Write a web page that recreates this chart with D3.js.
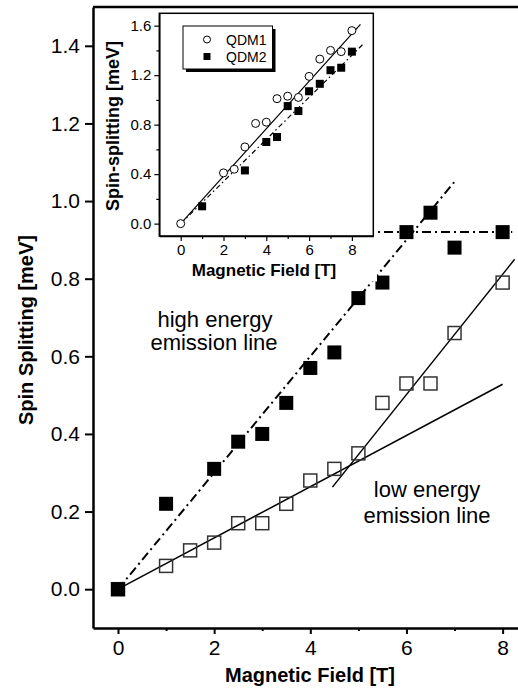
<!DOCTYPE html>
<html>
  <head>
    <title>Spin Splitting vs Magnetic Field</title>
    <meta charset="utf-8">
    <script src="https://d3js.org/d3.v7.min.js"></script>
    <style>
    body { margin: 0; background: #fff; }
    text { font-family: 'Liberation Sans', Arial, Helvetica, sans-serif; fill: #000; }
    .axis path, .axis line { stroke: #000; }
    .axis text { font-family: 'Liberation Sans', Arial, Helvetica, sans-serif; fill: #000; }
    .title { font-weight: bold; }
    </style>
  </head>
  <body>
    <script>

      // main panel data
      var highField = [0, 1, 2, 2.5, 3, 3.5, 4, 4.5, 5, 5.5, 6, 6.5, 7, 8];
      var highSplit = [0, 0.22, 0.31, 0.38, 0.40, 0.48, 0.57, 0.61, 0.75, 0.79, 0.92, 0.97, 0.88, 0.92];
      var lowField = [0, 1, 1.5, 2, 2.5, 3, 3.5, 4, 4.5, 5, 5.5, 6, 6.5, 7, 8];
      var lowSplit = [0, 0.06, 0.10, 0.12, 0.17, 0.17, 0.22, 0.28, 0.31, 0.35, 0.48, 0.53, 0.53, 0.66, 0.79];
      var highFit = [[0, 0], [7, 1.05]];
      var highSat = [[0, 0.92], [8.2, 0.92]];
      var lowFitA = [[0, 0], [8, 0.528]];
      var lowFitB = [[4.46, 0.263], [8.25, 0.85]];
      var mainXTicks = [0, 2, 4, 6, 8];
      var mainXMinor = [1, 3, 5, 7];
      var mainYTicks = [0, 0.2, 0.4, 0.6, 0.8, 1.0, 1.2, 1.4];

      // inset data
      var qdm1Field = [0, 2, 2.5, 3, 3.5, 4, 4.5, 5, 5.5, 6, 6.5, 7, 7.5, 8];
      var qdm1Split = [0, 0.41, 0.44, 0.62, 0.81, 0.82, 1.01, 1.03, 1.02, 1.19, 1.33, 1.40, 1.39, 1.56];
      var qdm2Field = [1, 3, 4, 4.5, 5, 5.5, 6, 6.5, 7, 7.5, 8];
      var qdm2Split = [0.14, 0.43, 0.66, 0.70, 0.95, 0.91, 1.07, 1.13, 1.24, 1.26, 1.39];
      var qdm1Fit = [[0, 0], [8.4, 1.61]];
      var qdm2Fit = [[0, 0], [8.55, 1.455]];
      var insetXTicks = [0, 2, 4, 6, 8];
      var insetXMinor = [1, 3, 5, 7];
      var insetYTicks = [0, 0.4, 0.8, 1.2, 1.6];
      var insetYMinor = [0.2, 0.6, 1.0, 1.4];
      var legendNames = ["QDM1", "QDM2"];

      // setup
      var w = 518, h = 691;
      var margin = {top: 7, left: 93, right: 0, bottom: 63};
      var plotwidth = w - margin.left - margin.right;
      var plotheight = h - margin.top - margin.bottom;
      var fmt = d3.format(".1f");

      var svg = d3.select("body").append("svg")
          .attr("width", w)
          .attr("height", h);

      var x = d3.scaleLinear().domain([-0.52, 8.32]).range([margin.left, margin.left + plotwidth]);
      var y = d3.scaleLinear().domain([-0.1, 1.5]).range([margin.top + plotheight, margin.top]);
      var line = d3.line().x(function(d) { return x(d[0]); }).y(function(d) { return y(d[1]); });

      // fit lines
      svg.append("path").attr("d", line(highFit)).attr("fill", "none")
          .attr("stroke", "#000").attr("stroke-width", 2).attr("stroke-dasharray", "9,4,2,4");
      svg.append("path").attr("d", line(highSat)).attr("fill", "none")
          .attr("stroke", "#000").attr("stroke-width", 2).attr("stroke-dasharray", "9,4,2,4");
      svg.append("path").attr("d", line(lowFitA)).attr("fill", "none")
          .attr("stroke", "#000").attr("stroke-width", 1.5);
      svg.append("path").attr("d", line(lowFitB)).attr("fill", "none")
          .attr("stroke", "#000").attr("stroke-width", 1.5);

      // markers
      var so = 13, sf = 14;
      svg.selectAll(".low").data(lowField).enter().append("rect")
          .attr("x", function(d) { return x(d) - so / 2; })
          .attr("y", function(d, i) { return y(lowSplit[i]) - so / 2; })
          .attr("width", so).attr("height", so)
          .attr("fill", "none").attr("stroke", "#333").attr("stroke-width", 1.5);
      svg.selectAll(".high").data(highField).enter().append("rect")
          .attr("x", function(d) { return x(d) - sf / 2; })
          .attr("y", function(d, i) { return y(highSplit[i]) - sf / 2; })
          .attr("width", sf).attr("height", sf)
          .attr("fill", "#000");

      // main axes
      var yAxis = svg.append("g").attr("class", "axis")
          .attr("transform", "translate(" + margin.left + ",0)")
          .call(d3.axisLeft(y).tickValues(mainYTicks).tickFormat(fmt).tickSize(8).tickSizeOuter(0).tickPadding(5));
      var xAxis = svg.append("g").attr("class", "axis")
          .attr("transform", "translate(0," + (margin.top + plotheight) + ")")
          .call(d3.axisBottom(x).tickValues(mainXTicks).tickFormat(d3.format("d")).tickSize(6).tickSizeOuter(0).tickPadding(6));
      svg.append("g").attr("class", "axis")
          .attr("transform", "translate(0," + (margin.top + plotheight) + ")")
          .call(d3.axisBottom(x).tickValues(mainXMinor).tickFormat("").tickSize(3).tickSizeOuter(0))
          .select(".domain").remove();
      svg.selectAll(".axis path").attr("stroke-width", 2.5);
      svg.selectAll(".axis line").attr("stroke-width", 2);
      yAxis.selectAll("text").style("font-size", "21px");
      xAxis.selectAll("text").style("font-size", "21px");
      svg.append("line").attr("x1", margin.left).attr("x2", w)
          .attr("y1", margin.top).attr("y2", margin.top)
          .attr("stroke", "#000").attr("stroke-width", 2.5);

      // main labels
      svg.append("text").attr("class", "title")
          .attr("transform", "translate(33,330) rotate(-90)")
          .attr("text-anchor", "middle").style("font-size", "20px")
          .text("Spin Splitting [meV]");
      svg.append("text").attr("class", "title")
          .attr("x", 310).attr("y", 682)
          .attr("text-anchor", "middle").style("font-size", "20px")
          .text("Magnetic Field [T]");

      // annotations
      var notes = [
        {t: "high energy", x: 215, y: 327},
        {t: "emission line", x: 214, y: 350},
        {t: "low energy", x: 427, y: 497},
        {t: "emission line", x: 427, y: 523}
      ];
      svg.selectAll(".note").data(notes).enter().append("text")
          .attr("x", function(d) { return d.x; })
          .attr("y", function(d) { return d.y; })
          .attr("text-anchor", "middle").style("font-size", "22px")
          .text(function(d) { return d.t; });

      // ---- inset ----
      var ix = d3.scaleLinear().domain([-1, 9]).range([159.3, 373.3]);
      var iy = d3.scaleLinear().domain([-0.1, 1.7]).range([236, 13.3]);
      var iline = d3.line().x(function(d) { return ix(d[0]); }).y(function(d) { return iy(d[1]); });
      var inset = svg.append("g");

      inset.append("rect").attr("x", 100).attr("y", 9.5).attr("width", 277).attr("height", 272).attr("fill", "#fff");

      inset.append("path").attr("d", iline(qdm1Fit)).attr("fill", "none")
          .attr("stroke", "#000").attr("stroke-width", 1.2);
      inset.append("path").attr("d", iline(qdm2Fit)).attr("fill", "none")
          .attr("stroke", "#000").attr("stroke-width", 1.2).attr("stroke-dasharray", "5,3,1.5,3");

      inset.selectAll(".q1").data(qdm1Field).enter().append("circle")
          .attr("cx", function(d) { return ix(d); })
          .attr("cy", function(d, i) { return iy(qdm1Split[i]); })
          .attr("r", 4).attr("fill", "#fff").attr("stroke", "#000").attr("stroke-width", 1);
      inset.selectAll(".q2").data(qdm2Field).enter().append("rect")
          .attr("x", function(d) { return ix(d) - 4; })
          .attr("y", function(d, i) { return iy(qdm2Split[i]) - 4; })
          .attr("width", 8).attr("height", 8).attr("fill", "#000");

      // inset frame and axes
      inset.append("rect").attr("x", ix(-1)).attr("y", iy(1.7))
          .attr("width", ix(9) - ix(-1)).attr("height", iy(-0.1) - iy(1.7))
          .attr("fill", "none").attr("stroke", "#000").attr("stroke-width", 1.5);
      var iyAxis = inset.append("g").attr("class", "axis")
          .attr("transform", "translate(" + ix(-1) + ",0)")
          .call(d3.axisLeft(iy).tickValues(insetYTicks).tickFormat(fmt).tickSize(5).tickSizeOuter(0).tickPadding(3));
      inset.append("g").attr("class", "axis")
          .attr("transform", "translate(" + ix(-1) + ",0)")
          .call(d3.axisLeft(iy).tickValues(insetYMinor).tickFormat("").tickSize(3).tickSizeOuter(0))
          .select(".domain").remove();
      var ixAxis = inset.append("g").attr("class", "axis")
          .attr("transform", "translate(0," + iy(-0.1) + ")")
          .call(d3.axisBottom(ix).tickValues(insetXTicks).tickFormat(d3.format("d")).tickSize(5).tickSizeOuter(0).tickPadding(3));
      inset.append("g").attr("class", "axis")
          .attr("transform", "translate(0," + iy(-0.1) + ")")
          .call(d3.axisBottom(ix).tickValues(insetXMinor).tickFormat("").tickSize(3).tickSizeOuter(0))
          .select(".domain").remove();
      inset.selectAll(".axis path").attr("stroke-width", 1.5);
      inset.selectAll(".axis line").attr("stroke-width", 1.2);
      iyAxis.selectAll("text").style("font-size", "15px");
      ixAxis.selectAll("text").style("font-size", "15px");

      inset.append("text").attr("class", "title")
          .attr("transform", "translate(119,126) rotate(-90)")
          .attr("text-anchor", "middle").style("font-size", "18px")
          .text("Spin-splitting [meV]");
      inset.append("text").attr("class", "title")
          .attr("x", 264).attr("y", 276)
          .attr("text-anchor", "middle").style("font-size", "17px")
          .text("Magnetic Field [T]");

      // legend with shadow
      var lg = inset.append("g");
      lg.append("rect").attr("x", 186).attr("y", 29).attr("width", 89.5).attr("height", 43).attr("fill", "#000");
      lg.append("rect").attr("x", 183).attr("y", 26).attr("width", 89.5).attr("height", 43)
          .attr("fill", "#fff").attr("stroke", "#000").attr("stroke-width", 1);
      lg.append("circle").attr("cx", 207).attr("cy", 39.5).attr("r", 3.5)
          .attr("fill", "#fff").attr("stroke", "#000").attr("stroke-width", 1);
      lg.append("rect").attr("x", 203.5).attr("y", 53).attr("width", 7).attr("height", 7).attr("fill", "#000");
      lg.selectAll(".lt").data(legendNames).enter().append("text")
          .attr("x", 226)
          .attr("y", function(d, i) { return 44.5 + i * 17; })
          .style("font-size", "14px")
          .text(function(d) { return d; });

    </script>
  </body>
</html>
